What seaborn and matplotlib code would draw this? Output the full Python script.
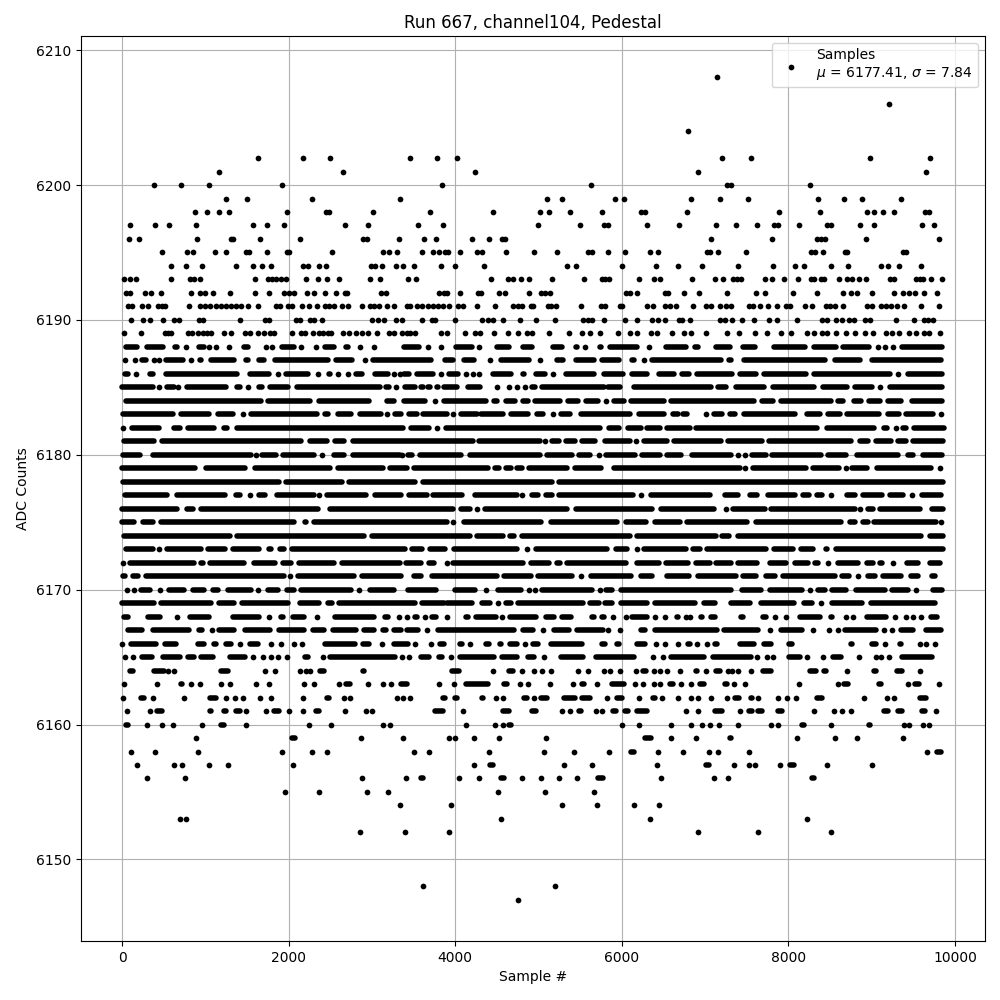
import pandas as pd
import matplotlib
matplotlib.use("Agg")
import matplotlib.pyplot as plt
import seaborn as sns

# --- Samples, one list per ADC level ---
# a plain number is one sample #, a (first, last) pair is a stretch of touching samples
adc_6208 = [7148]
adc_6206 = [9212]
adc_6204 = [6800]
adc_6202 = [1628, 2168, 2492, 3460, 3784, 4024, 7208, 7556, 8984, 9704]
adc_6201 = [1160, 2648, 4240, 6920, 9656]
adc_6200 = [380, 704, 1040, 1916, 3844, 5632, 7268, 7316, 8264]
adc_6199 = [1244, 1496, 2276, 3340, 5104, 5284, 5920, 6028, 6836, 7184, 7520, 8360, 8672, 8888, 9356]
adc_6198 = [872, 1016, 1160, 1280, 1976, 2448, 2480, 3008, 3700, 4456, 5020, 5128, 5380, 5764, 6228, 6280,
            6788, 7892, 8384, 8948, 9032, 9140, 9272, 9644, 9692]
adc_6197 = [92, 396, 564, 884, 1572, 1740, 1940, 2672, 2948, 3556, 3856, 4996, 5500, 5784, 5836, 6304, 6688,
            7136, 7376, 7628, 7828, 7876, 8132, 8468, 8508, 8864, 9032, 9608, 9752]
adc_6196 = [80, 200, 900, 1308, 1332, 1652, 2136, 2888, 2936, 3320, 3628, 3772, 4204, 4408, 4556, 4600,
            7076, 7800, 8348, 8388, 8444, 8936, 9812]
adc_6195 = [476, 776, 848, 1112, 1244, 1484, 1520, 1736, 1976, 2000, 2516, 3128, 3200, 3296, 3604, 3736, 3808,
            3876, 3916, 4060, 4264, 4324, 4612, 4948, 5224, 5596, 5644, 5836, 6040, 6340, 6436,
            7028, 7056, 7160, 7496, 8276, 8324, 8420, 8676, 8708, 9376, 9408]
adc_6194 = [584, 764, 956, 1364, 1568, 1676, 1784, 2168, 2228, 2360, 2444, 2984, 3032, 3116, 3284, 3368, 3504,
            3832, 4000, 4348, 5344, 5452, 6004, 6412, 6676, 6968, 7400, 7820, 8084, 8192, 8516, 8720,
            9116, 9200, 9328, 9596]
adc_6193 = [20, 92, 164, 584, 812, 860, 932, 1592, 1748, 1796, 1844, 1904, 1964, 2204, 2348, 2456, 2600, 2972,
            3092, 3428, 3532, 4432, 4636, 4696, 4788, 4888, 5164, 5548, 5768, 5796, 5848, 6208, 6388, 6460,
            6840, 7116, 7220, 7340, 7388, 7436, 7724, 7808, 7952, 8120, 8276, 8308, 8388, 8428, 8612, 8708,
            8768, 8852, 8936, 9224, 9264, 9536, 9576, 9620, 9716, 9848]
adc_6192 = [52, 92, 272, 344, 464, 824, 932, 992, 1088, 1292, 1592, 1760, 1940, 2000, 2060, 2216, 2300, 2432,
            2564, 2672, 2696, 3104, 3164, 3808, 3868, 3896, 4060, 4276, 4308, 4528, 4600, 4888, 5036, 5084,
            5144, 6056, 6104, 6184, 6516, 6556, 6752, 6932, 7268, 7616, 7720, 8056, 8348, 8660, 8756, 8828,
            9008, 9272, 9380, 9448, 9516, 9632, 9788]
adc_6191 = [68, 116, 236, 308, 428, 476, 512, 804, 932, 992, 1052, 1124, 1184, 1244, 1304, 1364, 1424, 1508,
            1628, 1844, 1892, 1988, 2036, 2156, 2240, 2336, 2432, 2480, 2540, 2636, 2708, 2876, 2972, 3020,
            3080, 3176, 3260, 3416, 3456, 3536, 3596, 3676, 3736, 3796, 3856, 3928, 4036, 4096, 4260, 4480,
            4696, 4756, 4804, 4904, 4936, 5116, 5156, 5216, 5516, 5748, 5796, 5976, 6008, 6304, 6376, 6516,
            6584, 6648, 6860, 7008, 7068, 7176, 7248, 7316, 7528, 7576, 7660, 7760, 7868, 7976, 8020, 8204,
            8288, 8448, 8500, 8556, 8660, 8948, 9008, 9108, 9168, 9232, 9308, 9392, 9596, 9812]
adc_6190 = [104, 248, 332, 488, 620, 680, 920, 968, 1412, 1712, 1760, 2084, 2132, 2252, 2300, 2396, 2996, 3068,
            3140, 3284, 3356, 3604, 3716, 3756, 4000, 4324, 4388, 4448, 4576, 4780, 4972, 5200, 5536, 5596,
            5648, 5788, 6040, 6184, 6364, 6436, 6524, 6688, 6720, 6824, 7176, 7236, 7328, 7448, 7592, 7772,
            7868, 8108, 8408, 8468, 8568, 8648, 8728, 8788, 8920, 8976, 9296, 9508, 9628, 9680, 9740]
adc_6189 = [20, 224, 512, 548, 584, 788, 836, 908, 968, 1016, 1068, 1220, 1304, 1472, 1532, 1628, 1700, 1772,
            1820, 2036, 2144, 2192, 2288, 2360, 2408, 2468, 2504, 2648, 2720, 2804, 2876, 2948, 3056, 3200,
            3260, 3356, 3416, 3456, 3516, 3824, 3904, 4116, 4236, 4296, 4468, 4636, 4756, 4856, 4916, 5128,
            5368, 5524, 5616, 5736, 5956, 6096, 6184, 6356, 6424, 6608, 6748, 6836, 7008, 7268, 7412, 7604,
            7748, 7916, 8028, 8220, 8308, 8408, 8468, 8568, 8688, 8804, 8920, 9020, 9168, 9248, 9328, 9448,
            9528, 9628, 9688, 9816]
adc_6188 = [(48, 180), (304, 488), (632, 660), 764, (924, 980), 1040, 1124, 1288, (1460, 1508), 1728, 1804,
            (1924, 2068), 2144, 2324, (2432, 2540), (2692, 2716), 2852, 3020, (3388, 3564), 3676, 3824,
            (4008, 4204), 4288, (4496, 4644), (4816, 4916), (5176, 5284), (5448, 5464), 5560, (5736, 5752),
            (5856, 6184), 6328, (6528, 6776), (6880, 6916), (7132, 7296), (7460, 7596), (7828, 8196),
            (8308, 8576), (8660, 8968), 9076, 9164, 9260, (9360, 9848)]
adc_6187 = [32, 160, (240, 288), 380, 444, (532, 728), 824, (932, 948), (1072, 1348), (1492, 1508), (1644, 1700),
            (1832, 2468), (2564, 2760), 2912, (3012, 3704), (3872, 3968), (4108, 4224), 4416, (4548, 4884),
            5020, (5228, 5296), (5456, 5664), (5768, 5964), (6128, 6152), 6268, (6368, 7196), (7288, 7316),
            (7468, 8436), (8560, 8864), (9000, 9836)]
adc_6186 = [(32, 68), 168, (340, 368), (532, 1380), (1532, 1768), 1872, (1964, 2228), 2356, (2480, 2500), 2588,
            2708, (2812, 2876), (3032, 3188), 3260, 3332, (3388, 3444), (3536, 3736), 3832, (3928, 4032), 4132,
            4208, 4284, (4456, 4664), (4816, 4824), (4968, 5084), 5176, (5328, 5664), (5788, 6012), (6128, 6304),
            (6448, 6624), (6720, 6808), (6900, 7328), (7420, 7616), (7712, 8216), (8308, 9216), 9320, (9440, 9848)]
adc_6185 = [(4, 368), 440, (540, 620), 672, (780, 1252), (1380, 1412), 1508, (1648, 1684), (1780, 1992),
            (2100, 3092), (3172, 3204), 3292, (3392, 3512), (3592, 3616), (3676, 3696), (3776, 3796), (3864, 4024),
            (4152, 4296), 4504, 4640, 4744, 4840, (4920, 4960), (5040, 5784), (5840, 5976), (6144, 7076),
            (7160, 7256), (7376, 7708), (7816, 8308), (8416, 8700), (8796, 9008), 9104, (9216, 9848)]
adc_6184 = [(44, 1668), (1756, 2260), (2364, 2960), (3180, 3260), (3384, 3640), 3752, (3864, 4368), (4464, 4496),
            (4608, 4720), (4816, 4872), (4964, 5264), (5360, 5476), (5576, 5720), 5812, (5904, 6024), (6112, 6504),
            (6592, 7588), (7680, 7816), (7908, 8508), (8592, 8656), (8784, 8876), (8972, 9104), (9192, 9356),
            (9480, 9840)]
adc_6183 = [(12, 608), (708, 1048), (1148, 1328), 1456, (1552, 2340), (2432, 2476), (2592, 2748), (2852, 3108),
            3176, (3272, 3348), (3440, 3536), (3616, 3904), 3976, (4064, 4256), (4312, 4576), (4664, 4872),
            (4988, 5056), 5176, (5272, 5384), (5516, 6104), (6208, 6504), (6616, 6676), (6736, 6788), 7008,
            (7104, 7200), (7296, 7360), (7472, 8076), (8220, 8384), (8472, 8616), (8700, 9088), (9200, 9328),
            (9408, 9736), 9828]
adc_6182 = [12, (124, 448), (628, 700), (788, 1100), (1220, 1256), (1380, 3376), (3468, 3688), 3776, (3888, 5744),
            (5848, 5964), (6080, 6232), (6304, 6464), (6548, 6824), (6896, 8348), (8464, 9028), (9144, 9184), 9288,
            (9376, 9416), (9512, 9868)]
adc_6181 = [(24, 380), (484, 2148), (2252, 2460), (2552, 2660), (2772, 4208), (4280, 5016), 5080, (5168, 5244),
            (5328, 5436), (5520, 5680), (5800, 6096), 6176, (6272, 6544), (6628, 7196), (7280, 7680), (7768, 8756),
            (8860, 8956), (9048, 9236), (9312, 9408), (9492, 9856)]
adc_6180 = [(12, 216), (372, 1548), 1608, (1684, 1848), (1932, 2300), 2396, (2544, 2660), (2772, 3332), 3356,
            (3428, 3484), (3576, 4064), (4176, 5024), (5108, 5404), (5488, 5624), 5724, (5808, 6164), (6248, 6464),
            (6548, 6708), (6840, 7316), 7392, 7476, (7568, 7728), (7808, 8396), (8480, 8696), (8820, 9316),
            (9432, 9496), (9620, 9848)]
adc_6179 = [(0, 876), (1012, 1476), (1592, 2500), (2592, 3128), (3220, 3416), (3500, 4392), (4480, 4524),
            (4608, 4664), (4736, 4800), (4888, 5344), (5436, 5752), (5908, 7416), 7480, (7572, 8216), (8300, 8608),
            8696, (8768, 8944), (9060, 9716), 9816]
adc_6178 = [(12, 1888), (1972, 2636), (2724, 3512), (3616, 5164), (5248, 9856)]
adc_6177 = [(36, 540), (660, 1236), (1364, 1420), 1532, (1644, 1716), (1860, 2300), 2368, (2464, 2928), (3040, 3348),
            (3440, 3656), (3736, 4084), (4240, 4736), 4804, (4920, 4992), (5096, 5164), (5248, 6136), 6228,
            (6356, 7064), (7240, 7400), (7544, 7628), (7760, 8076), (8180, 8248), (8340, 8408), 8508, (8700, 8804),
            (8900, 9128), (9216, 9376), 9488, (9600, 9836)]
adc_6176 = [(0, 660), (780, 848), (944, 2356), (2492, 3972), (4068, 4176), 4264, (4356, 5344), (5448, 6364),
            (6468, 7104), 7248, (7340, 7716), (7792, 8796), 8864, (8952, 9016), (9100, 9576), (9720, 9856)]
adc_6175 = [(0, 140), (252, 368), (464, 2060), (2192, 2208), (2304, 3896), 3976, (4108, 5032), (5148, 5944),
            (6048, 6296), (6396, 6700), (6780, 7508), (7608, 8636), (8740, 8796), (8900, 8956), (9032, 9768), 9836]
adc_6174 = [(24, 1300), (1380, 2900), (3004, 4176), (4256, 4576), (4656, 4704), (4800, 6104), (6180, 7128),
            (7208, 7288), (7400, 9596), (9700, 9856)]
adc_6173 = [(44, 368), 448, (540, 948), (1032, 1236), (1332, 1648), (1760, 1788), (1892, 1948), (2036, 3392),
            (3480, 3604), (3696, 3872), (3988, 4744), 4856, (4976, 5824), (5928, 6064), 6184, (6268, 6776),
            (6860, 6936), (7020, 7736), (7828, 8056), (8152, 8296), (8452, 8464), (8572, 9856)]
adc_6172 = [12, (100, 860), (952, 968), (1052, 1460), (1584, 1840), (1932, 2028), (2124, 2540), (2644, 3332),
            (3408, 3592), (3680, 3744), 3896, (3968, 4816), (4908, 5124), (5228, 5264), (5348, 6056), (6180, 6444),
            (6536, 6796), (6888, 7056), (7132, 7316), (7392, 7624), (7780, 7976), (8080, 8236), (8320, 8356), 8476,
            (8592, 8836), (8940, 9016), (9100, 9128), 9252, (9420, 9556), (9700, 9816)]
adc_6171 = [(12, 36), (132, 188), (292, 1948), 2020, (2112, 2788), (2884, 3352), (3500, 3592), (3716, 4496),
            (4588, 4904), (5000, 5404), 5512, (5628, 6112), (6228, 6364), (6548, 6808), (6912, 7368), (7452, 7608),
            (7728, 7836), (7932, 8556), (8648, 8728), 8832, (8960, 9036), (9132, 9356), (9472, 9556), (9720, 9756)]
adc_6170 = [60, 148, (232, 340), 460, (564, 748), (852, 988), (1092, 1148), (1272, 1548), 1636, (1752, 1876),
            (1980, 2060), (2152, 2748), 2840, (2972, 3260), (3428, 3764), (4000, 4236), 4368, (4508, 4784), 4888,
            4964, (5048, 5644), 5736, (5816, 5884), (5988, 7316), (7440, 7676), (7780, 8168), 8260, (8352, 8436),
            (8528, 8696), (8812, 9156), (9240, 9436), 9536, (9740, 9848)]
adc_6169 = [(0, 380), (472, 1068), (1164, 1348), (1444, 1988), (2132, 2368), (2472, 2516), (2604, 3512), (3600, 3868),
            (3896, 4204), (4320, 4416), 4512, (4608, 4664), (4748, 5536), (5616, 5724), (5800, 5884), (5988, 6304),
            (6400, 6876), (6992, 7116), (7308, 7544), (7672, 8068), (8192, 8288), 8396, (8520, 8888), (8992, 9756)]
adc_6168 = [(24, 76), (312, 460), 656, (820, 1048), (1164, 1168), (1332, 1648), 1760, (1912, 1936), (2052, 2180),
            2336, (2560, 3020), (3152, 3188), 3320, 3424, (3520, 3536), 3636, (3720, 3764), 3904, (4128, 4152),
            (4248, 4484), 4564, (4656, 4976), (5096, 5192), (5288, 5396), (5648, 5672), (5768, 5792), 5896, 6056,
            (6128, 6304), 6404, 6516, (6660, 6676), 6768, 6816, (6952, 6968), (7072, 7116), (7432, 7456),
            (7692, 7728), 7836, 7976, (8140, 8376), (8508, 8528), 8688, 8776, (8940, 9176), 9280, 9416, 9500,
            9588, (9712, 9784)]
adc_6167 = [(72, 236), (372, 808), (924, 956), 1076, (1164, 1348), (1472, 1776), (1884, 2188), (2292, 2428),
            (2532, 2808), (2900, 3028), (3132, 3168), (3264, 3348), (3416, 3552), 3656, (3788, 4704), (4808, 4936),
            5060, (5192, 5364), (5460, 5776), 5836, 5976, (6228, 6284), (6396, 7144), (7232, 7636), 7776,
            (7912, 8168), 8300, 8488, 8600, (8680, 9056), 9152, 9240, (9352, 9496), (9652, 9828)]
adc_6166 = [0, (112, 408), (512, 648), (912, 980), (1104, 1128), (1252, 1308), 1412, (1540, 1636), 1788, 1912, 2060,
            2156, (2440, 2796), (2892, 2968), 3124, (3260, 3436), 3520, 3704, (3816, 3864), (4056, 4084), 4176,
            (4368, 4404), (4536, 4552), (4656, 4744), 4840, (4928, 4992), (5148, 5524), (5760, 5804), (5948, 5964),
            (6180, 6284), 6412, 6520, 6676, (6800, 6824), 6908, 7020, (7120, 7144), (7420, 7584), (7712, 7796),
            (8008, 8048), (8752, 8768), (9000, 9056), 9164, (9340, 9356), 9576, 9656, 9764]
adc_6165 = [32, 128, (244, 356), (492, 700), (792, 860), (952, 1088), (1300, 1476), 1572, 1688, 1784, 1868, 1976,
            (2192, 2228), 2408, (2500, 3276), 3356, 3448, (3588, 3684), (3808, 3844), 3952, (4056, 4468),
            (4560, 4736), (4868, 4952), 5072, (5268, 5532), (5696, 6152), 6376, 6496, (6588, 6992), (7092, 7556),
            7620, 7748, 7820, (8012, 8144), 8228, 8416, (8540, 8636), 8848, 9048, 9116, 9208, (9360, 9728),
            (9840, 9848)]
adc_6164 = [(100, 128), (384, 500), 548, 620, (1192, 1276), 1712, 1832, 2140, 2204, 2260, (2380, 2428), (2892, 2908),
            (3960, 4040), 4456, (4640, 4696), 4804, 4948, 5048, 5156, 5476, 5596, 5788, 5856, 5980, 6168,
            (6256, 6288), 6392, 6460, 6544, 6700, (6888, 6908), 7016, (7128, 7184), 7280, 7328, 7400, 7556,
            (7700, 7796), (8260, 8336), (8432, 8456), 8708, (9032, 9056), (9304, 9360), 9584]
adc_6163 = [20, 416, (708, 724), 824, 932, 1184, 1292, 1604, 1760, 2180, 2300, (2492, 2500), 2600, (2684, 2740), 2948,
            3128, 3224, (3348, 3424), 3808, 3988, (4128, 4392), (4584, 4624), 4780, 4876, 5140, 5416, (5528, 5544),
            5704, (5888, 6024), 6160, 6256, 6388, 6460, (6584, 6616), 6716, 6836, (6936, 6984), (7240, 7264),
            7352, 7484, 8132, 8600, (8672, 8712), (9088, 9112), 9440, (9520, 9568), 9812]
adc_6162 = [8, (228, 268), 368, 740, (1052, 1132), 1244, 1352, 1452, 1652, 1784, 2168, (2460, 2484), 2660, 2732, 3296,
            3376, 3460, (3856, 3872), (4000, 4020), (4320, 4336), 4492, 4576, (4824, 4856), 4948, (5032, 5104),
            (5308, 5436), (5528, 5616), 5824, (5948, 6008), 6208, (6372, 6396), 6480, 6676, 6836, 6920, 7076,
            7268, (7360, 7408), (7548, 7568), 7640, 7880, 7988, 8096, (8348, 8408), 8912, 9188, 9268, (9576, 9656)]
adc_6161 = [56, 332, (420, 476), (1052, 1068), (1220, 1248), (1368, 1412), 1484, 1724, (1828, 1880), 2008, 2168,
            (2332, 2360), 2680, 2924, 2996, (3760, 3856), 4096, (4568, 4648), (4916, 4976), 5284, 5380, (5488, 5516),
            5692, 5764, (5896, 5936), (6036, 6076), (6188, 6304), 6776, 6920, (7120, 7208), 7424, (7528, 7560),
            (7632, 7680), (7880, 7920), 8312, 8552, 8648, 8756, (9144, 9192), (9316, 9368), (9608, 9640), 9776]
adc_6160 = [(52, 68), 296, 476, 608, 964, (1188, 1228), 1484, 2240, 2504, 3128, 3212, 4132, 4480, 4576, (4640, 4664),
            6004, 6208, 6592, 6836, 6968, 7064, 7172, 7400, 7796, 7880, (8168, 8192), 8516, (8968, 8980), 9392,
            9452, 9620, 9684]
adc_6159 = [884, (2036, 2076), 2864, 3376, 3928, 3996, 4228, 4528, 5092, (6280, 6356), 6592, 6896, (7300, 7316), 8108,
            8564, 8828, 9380]
adc_6158 = [104, 392, 908, 1916, 2276, 2456, 3508, 3688, 4408, 5068, 5428, 5848, (6116, 6148), 6436, 6736, 7052, 7160,
            7532, 9668, (9788, 9828)]
adc_6157 = [176, 620, 716, 1040, 1268, 2048, 4228, (4416, 4448), 5308, 5644, 6424, (7008, 7048), 7352, 7532, 7604,
            7904, (8024, 8064), 8468, 9008]
adc_6156 = [296, 752, 2876, 3412, (3584, 3608), 4048, 4288, (4544, 4588), 4804, 5032, 5248, 5464, (5720, 5776), 6472,
            7112, 7280, (8288, 8304)]
adc_6155 = [1952, 2360, 2936, 3188, 4516, 5080, 5668]
adc_6154 = [3340, 3952, 5284, 5704, 6148, 6448]
adc_6153 = [692, 764, 4552, 6340, 8228]
adc_6152 = [2856, 3400, 3928, 6920, 7640, 8516]
adc_6148 = [3616, 5200]
adc_6147 = [4756]

levels = [6208, 6206, 6204, 6202, 6201, 6200, 6199, 6198, 6197, 6196, 6195, 6194, 6193, 6192, 6191, 6190, 6189,
          6188, 6187, 6186, 6185, 6184, 6183, 6182, 6181, 6180, 6179, 6178, 6177, 6176, 6175, 6174, 6173, 6172,
          6171, 6170, 6169, 6168, 6167, 6166, 6165, 6164, 6163, 6162, 6161, 6160, 6159, 6158, 6157, 6156, 6155,
          6154, 6153, 6152, 6148, 6147]

# --- Configuration ---
TITLE = "Run 667, channel104, Pedestal"
X_LABEL = "Sample #"
Y_LABEL = "ADC Counts"
LEGEND_LABEL = "Samples\n$\\mu$ = 6177.41, $\\sigma$ = 7.84"

# Split the lists into lone samples and stretches
point_rows = []
run_rows = []
for level in levels:
    for item in globals()[f"adc_{level}"]:
        if isinstance(item, tuple):
            run_id = len(run_rows)
            run_rows.append({"sample": item[0], "adc": level, "run": run_id})
            run_rows.append({"sample": item[1], "adc": level, "run": run_id})
        else:
            point_rows.append({"sample": item, "adc": level})
points = pd.DataFrame(point_rows)
runs = pd.DataFrame(run_rows)

fig, ax = plt.subplots(figsize=(10, 10), dpi=100)

sns.lineplot(data=runs, x="sample", y="adc", units="run", estimator=None, color="black",
             linewidth=4, solid_capstyle="round", legend=False, zorder=2, ax=ax)
sns.scatterplot(data=points, x="sample", y="adc", color="black", marker="o", s=17, linewidth=0,
                label=LEGEND_LABEL, zorder=2, ax=ax)

ax.set_title(TITLE)
ax.set_xlabel(X_LABEL)
ax.set_ylabel(Y_LABEL)
ax.grid(True)
ax.legend(loc="upper right")

fig.subplots_adjust(left=0.081, right=0.985, top=0.964, bottom=0.059)
plt.savefig("out.png", dpi=100)
plt.close()
